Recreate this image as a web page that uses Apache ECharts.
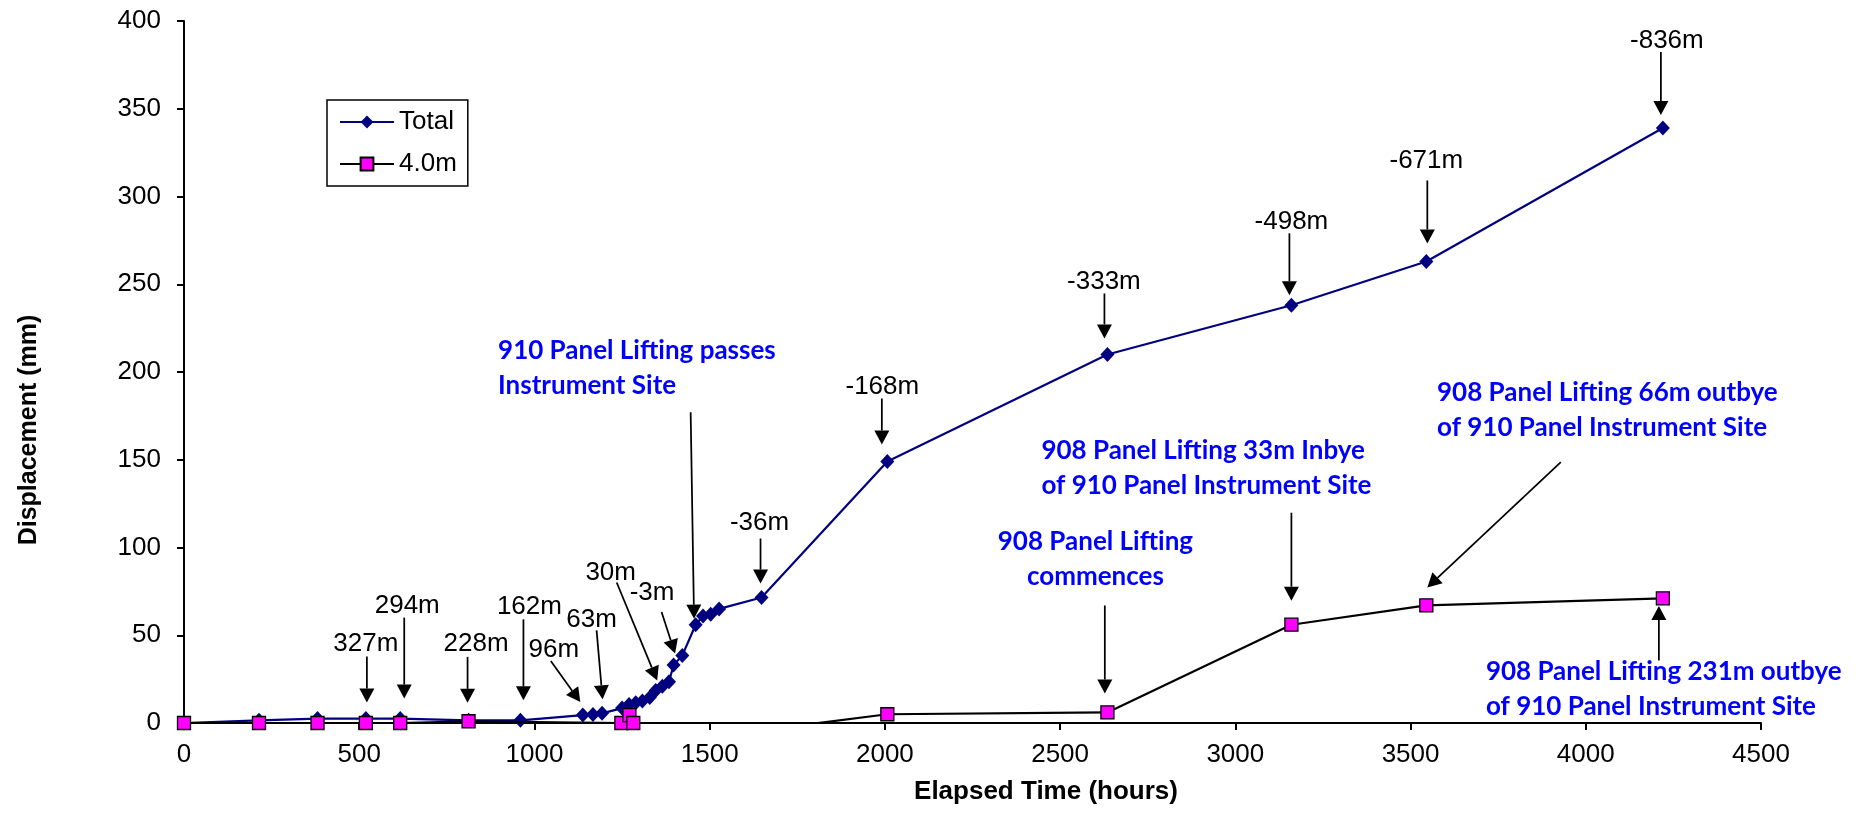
<!DOCTYPE html>
<html>
<head>
<meta charset="utf-8">
<script src="https://cdn.jsdelivr.net/npm/echarts@6/dist/echarts.min.js"></script>
<style>
  html, body { margin: 0; padding: 0; background: #fff; }
  #chart { width: 1873px; height: 813px; }
</style>
</head>
<body>
<div id="chart"></div>
<script>
// ---- Survey readings ------------------------------------------------------
// Elapsed time (hours) and total roof displacement (mm)
const totalHours = [0, 214, 381, 519, 617, 812, 960, 1138, 1167, 1193, 1250, 1270, 1289, 1308, 1329,
                    1346, 1365, 1384, 1397, 1422, 1460, 1481, 1503, 1527, 1648, 2007, 2635, 3160, 3545, 4220];
const totalMm    = [0, 1.5, 2.5, 2.5, 2.5, 1.5, 1.5, 4.5, 4.8, 5.5, 8.5, 10.5, 11.5, 12.5, 14.5,
                    18.5, 21, 23.5, 33, 38.5, 56, 61, 62, 65, 71.5, 149, 210, 238, 263, 339];
// Elapsed time (hours) and displacement (mm) of the 4.0m anchor
const anchorHours = [0, 214, 381, 519, 617, 812, 1248, 1271, 1282, 1780, 2007, 2635, 3160, 3545, 4220];
const anchorMm    = [0, 0, 0, 0, 0, 1, 0, 4.5, 0, -0.8, 5, 6, 56, 67, 71];

const seriesNames = ['Total', '4.0m'];
const xRange = [0, 4500], xStep = 500;
const yRange = [0, 400], yStep = 50;
const xTitle = 'Elapsed Time (hours)';
const yTitle = 'Displacement (mm)';

// Face position relative to the instrument site, tagged on Total readings
const faceLabels  = ['327m', '294m', '228m', '162m', '96m', '63m', '30m', '-3m', '-36m',
                     '-168m', '-333m', '-498m', '-671m', '-836m'];
const faceReading = [3, 4, 5, 6, 7, 9, 15, 18, 24, 25, 26, 27, 28, 29];

// Mining events, tagged on a reading of a series (0 = Total, 1 = 4.0m)
const eventNotes = [
  '910 Panel Lifting passes\nInstrument Site',
  '908 Panel Lifting\ncommences',
  '908 Panel Lifting 33m Inbye\nof 910 Panel Instrument Site',
  '908 Panel Lifting 66m outbye\nof 910 Panel Instrument Site',
  '908 Panel Lifting 231m outbye\nof 910 Panel Instrument Site'
];
const eventSeries  = [0, 1, 1, 1, 1];
const eventReading = [20, 11, 12, 13, 14];

// ---- Callout layout (pixel offsets from the tagged reading) ---------------
// [labelDx, labelDy, tailDx, tailDy, tipDx, tipDy]
const faceLayout = [
  [0, -75, 1, -62, 1, -16],
  [7, -113, 4, -101, 4, -20],
  [7.5, -77, -1, -63.5, -1, -17.5],
  [9, -114, 3, -101, 3, -20],
  [-29, -65.5, -32, -54, -2.5, -13],
  [-10.5, -94, -5.5, -83, 0.5, -14],
  [-45, -118, -39, -108, 1.5, -10],
  [-21.5, -72.5, -12, -53, 1.5, -11.5],
  [-2, -74.7, -1, -59, -1, -14],
  [-5, -74.5, -5.5, -63, -5.5, -17],
  [-3.5, -73, -3, -61, -3, -16],
  [0, -83, -2, -72, -2, -10],
  [0, -101, 1, -81, 1, -18],
  [4, -87, -2, -76, -2, -13]
];
// [align, textDx, firstLineDy, tailDx, tailDy, tipDx, tipDy]
const eventLayout = [
  ['left', -197.6, -274.4, -5, -212.4, -1.6, -6],
  ['center', -12, -170.5, -2.6, -107, -2.6, -19],
  ['left', -250, -174.4, 0, -112, 0, -24],
  ['left', 10.7, -213, 134.5, -143.4, 1, -18],
  ['left', -177, 73.4, -4, 62, -4, 7.6]
];

const ARIAL = '"Liberation Sans", Arial, sans-serif';
const NOTE_FONT = 'Lato, "Open Sans", sans-serif';
const NOTE_LINE = 35;

const chart = echarts.init(document.getElementById('chart'), null, { renderer: 'canvas' });

const axisCommon = {
  type: 'value',
  axisLine: { show: true, onZero: false, lineStyle: { color: '#000', width: 2 } },
  axisTick: { show: true, inside: false, length: 7, lineStyle: { color: '#000', width: 2 } },
  splitLine: { show: false },
  axisLabel: { show: true, fontFamily: ARIAL, fontSize: 26, color: '#000', formatter: v => String(v) }
};

const option = {
  animation: false,
  backgroundColor: '#fff',
  grid: { left: 184, right: 112, top: 21, bottom: 90, containLabel: false },
  xAxis: Object.assign({}, axisCommon, {
    min: xRange[0], max: xRange[1], interval: xStep,
    axisLabel: Object.assign({}, axisCommon.axisLabel, { margin: 19 })
  }),
  yAxis: Object.assign({}, axisCommon, {
    min: yRange[0], max: yRange[1], interval: yStep,
    axisLabel: Object.assign({}, axisCommon.axisLabel, { margin: 23 })
  }),
  legend: {
    show: true,
    orient: 'vertical',
    left: 327,
    top: 100,
    padding: [9, 11, 9, 12],
    itemGap: 16,
    itemWidth: 54,
    itemHeight: 16,
    borderColor: '#000',
    borderWidth: 1.5,
    backgroundColor: '#fff',
    textStyle: { fontFamily: ARIAL, fontSize: 26, color: '#000' },
    data: seriesNames
  },
  series: [
    {
      name: seriesNames[0],
      type: 'line',
      data: totalHours.map((h, i) => [h, totalMm[i]]),
      symbol: 'diamond',
      symbolSize: [14, 15],
      itemStyle: { color: '#000080' },
      lineStyle: { color: '#000080', width: 2.2 },
      z: 2
    },
    {
      name: seriesNames[1],
      type: 'line',
      data: anchorHours.map((h, i) => [h, anchorMm[i]]),
      symbol: 'rect',
      symbolSize: 13,
      clip: true,
      itemStyle: { color: '#FF00FF', borderColor: '#000', borderWidth: 1.3 },
      lineStyle: { color: '#000', width: 2.2 },
      z: 3
    }
  ]
};

chart.setOption(option);

// Straight callout arrow with a solid triangular head
function arrow(x1, y1, x2, y2) {
  const L = 14, W = 7.5;
  const dx = x2 - x1, dy = y2 - y1, len = Math.hypot(dx, dy);
  const ux = dx / len, uy = dy / len;
  const bx = x2 - ux * L, by = y2 - uy * L;
  return [
    { type: 'line', silent: true, z: 100,
      shape: { x1: x1, y1: y1, x2: bx, y2: by },
      style: { stroke: '#000', lineWidth: 1.75 } },
    { type: 'polygon', silent: true, z: 100,
      shape: { points: [[x2, y2], [bx - uy * W, by + ux * W], [bx + uy * W, by - ux * W]] },
      style: { fill: '#000' } }
  ];
}

const px = (h, v) => chart.convertToPixel({ gridIndex: 0 }, [h, v]);
const graphics = [];

// Axis titles
graphics.push({
  type: 'text', silent: true, x: 1046, y: 792,
  style: { text: xTitle, font: 'bold 26px ' + ARIAL, fill: '#000', align: 'center', verticalAlign: 'middle' }
});
graphics.push({
  type: 'text', silent: true, x: 29, y: 430, rotation: Math.PI / 2,
  style: { text: yTitle, font: 'bold 25px ' + ARIAL, fill: '#000', align: 'center', verticalAlign: 'middle' }
});

// Face position callouts
faceLabels.forEach((txt, k) => {
  const i = faceReading[k];
  const p = px(totalHours[i], totalMm[i]);
  const o = faceLayout[k];
  graphics.push({
    type: 'text', silent: true, z: 100, x: p[0] + o[0], y: p[1] + o[1],
    style: { text: txt, font: '26px ' + ARIAL, fill: '#000', align: 'center', verticalAlign: 'middle' }
  });
  graphics.push(...arrow(p[0] + o[2], p[1] + o[3], p[0] + o[4], p[1] + o[5]));
});

// Mining event callouts
eventNotes.forEach((txt, k) => {
  const i = eventReading[k];
  const p = eventSeries[k] === 0 ? px(totalHours[i], totalMm[i]) : px(anchorHours[i], anchorMm[i]);
  const o = eventLayout[k];
  graphics.push({
    type: 'text', silent: true, z: 100, x: p[0] + o[1], y: p[1] + o[2] - NOTE_LINE / 2,
    style: { text: txt, font: 'bold 26px ' + NOTE_FONT, lineHeight: NOTE_LINE,
             fill: '#0000FF', align: o[0], verticalAlign: 'top' }
  });
  graphics.push(...arrow(p[0] + o[3], p[1] + o[4], p[0] + o[5], p[1] + o[6]));
});

chart.setOption({ graphic: graphics });
</script>
</body>
</html>
